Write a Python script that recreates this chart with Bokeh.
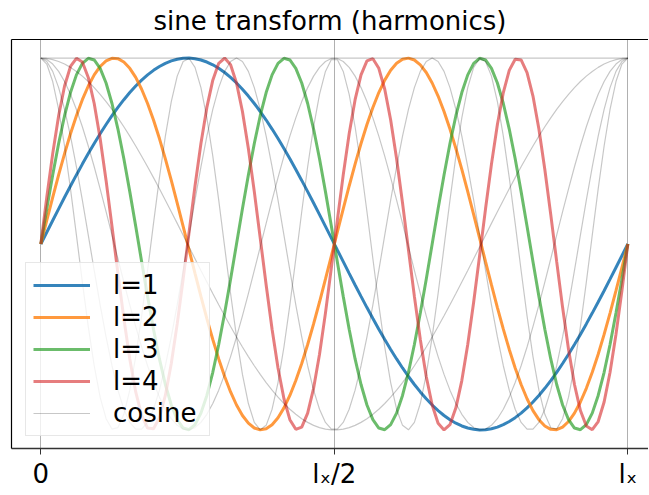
import numpy as np
from bokeh.plotting import figure
from bokeh.models import Range1d, LinearAxis, FixedTicker, Legend, LegendItem
from bokeh.embed import file_html
from bokeh.resources import INLINE

# data
n_samples = 100
sine_harmonics = [1, 2, 3, 4]
sine_labels = ["l=1", "l=2", "l=3", "l=4"]
sine_colors = ["#1f77b4", "#ff7f0e", "#2ca02c", "#d62728"]
sine_alphas = [0.9, 0.8, 0.7, 0.6]
cosine_harmonics = [0, 1, 2, 3, 4]
tick_values = [0, 0.5, 1]
tick_labels = ["0", "lₓ/2", "lₓ"]
title_text = "sine transform (harmonics)"

x = np.linspace(0.0, 1.0, n_samples)

FONT = "DejaVu Sans"

p = figure(width=648, height=491, output_backend="svg", toolbar_location=None,
           x_range=Range1d(-0.05, 1.0352), y_range=Range1d(-1.1, 1.1),
           min_border_left=11, min_border_right=0, min_border_top=0, min_border_bottom=0,
           x_axis_location=None, y_axis_location=None)

p.title.text = title_text
p.title.text_font = FONT
p.title.text_font_size = "26px"
p.title.text_font_style = "normal"
p.title.align = "center"
p.title.text_color = "black"
p.title.standoff = 7
p.outline_line_color = None
p.background_fill_color = "white"

# axes: bottom with ticks, left and top as plain frame lines
bottom = LinearAxis(ticker=FixedTicker(ticks=tick_values),
                    major_label_overrides={v: t for v, t in zip(tick_values, tick_labels)})
bottom.major_label_text_font = FONT
bottom.major_label_text_font_size = "26px"
bottom.major_label_text_color = "black"
bottom.major_tick_out = 6
bottom.major_tick_in = 0
bottom.major_tick_line_color = "#333333"
bottom.minor_tick_line_color = None
bottom.axis_line_color = "#333333"
bottom.axis_line_width = 1.5
bottom.major_label_standoff = 4
p.add_layout(bottom, "below")

for loc in ("left", "above"):
    ax = LinearAxis(ticker=FixedTicker(ticks=[]))
    ax.major_tick_line_color = None
    ax.minor_tick_line_color = None
    ax.major_label_text_font_size = "0px"
    ax.axis_line_color = "black"
    ax.axis_line_width = 1.2
    ax.major_label_standoff = 0
    ax.axis_label_standoff = 0
    p.add_layout(ax, loc)

p.xgrid.ticker = FixedTicker(ticks=tick_values)
p.xgrid.grid_line_color = "#b0b0b0"
p.xgrid.grid_line_width = 1
p.ygrid.grid_line_color = None

items = []
for l, lab, c, a in zip(sine_harmonics, sine_labels, sine_colors, sine_alphas):
    r = p.line(x, np.sin(2 * np.pi * l * x), line_color=c, line_alpha=a, line_width=3)
    items.append(LegendItem(label=lab, renderers=[r]))

cos_renderers = []
for k in cosine_harmonics:
    r = p.line(x, np.cos(2 * np.pi * k * x), line_color="black", line_alpha=0.22, line_width=1.2)
    cos_renderers.append(r)
items.append(LegendItem(label="cosine", renderers=[cos_renderers[0]]))

legend = Legend(items=items, location=(14, 12))
legend.label_text_font = FONT
legend.label_text_font_size = "26px"
legend.label_text_color = "black"
legend.glyph_width = 57
legend.glyph_height = 28
legend.label_height = 28
legend.label_width = 89
legend.label_standoff = 23
legend.spacing = 2
legend.padding = 7
legend.margin = 0
legend.border_line_color = "#d0d0d0"
legend.border_line_width = 1
legend.background_fill_color = "white"
legend.background_fill_alpha = 0.8
p.add_layout(legend, "center")

open("out.html", "w").write(file_html(p, INLINE))
